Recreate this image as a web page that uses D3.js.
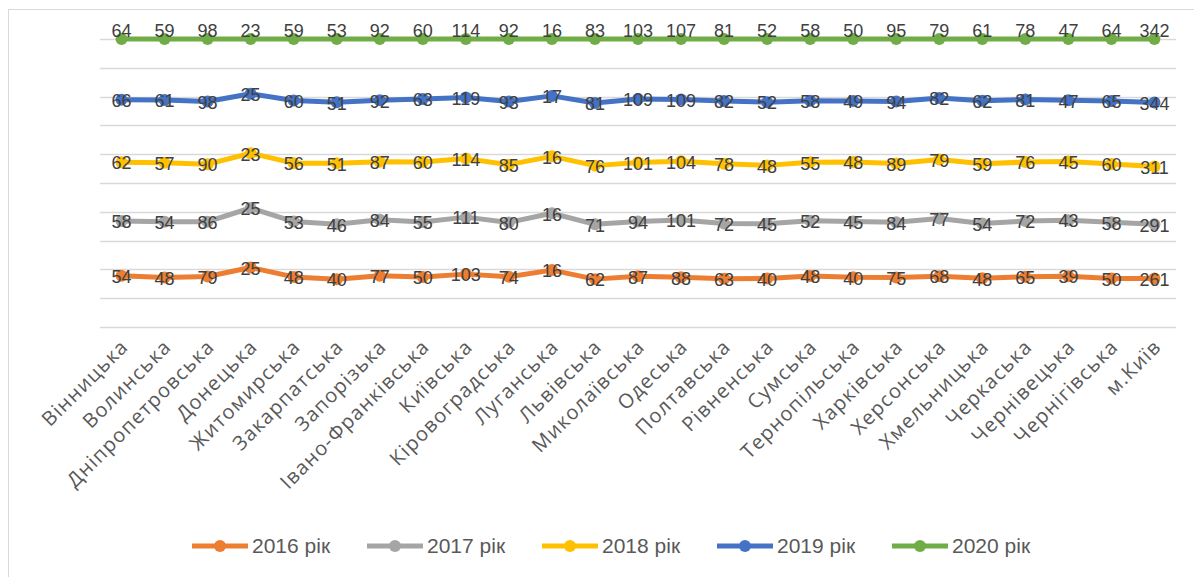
<!DOCTYPE html>
<html>
<head>
<meta charset="utf-8">
<script src="https://cdn.jsdelivr.net/npm/d3@7"></script>
<style>
  body { margin: 0; background: #fff; }
  svg { display: block; font-family: "Liberation Sans", Arial, sans-serif; }
</style>
</head>
<body>
<div id="chart"></div>
<script>
// oblasts
const regions = ["Вінницька", "Волинська", "Дніпропетровська", "Донецька", "Житомирська",
  "Закарпатська", "Запорізька", "Івано-Франківська", "Київська", "Кіровоградська",
  "Луганська", "Львівська", "Миколаївська", "Одеська", "Полтавська", "Рівненська",
  "Сумська", "Тернопільська", "Харківська", "Херсонська", "Хмельницька", "Черкаська",
  "Чернівецька", "Чернігівська", "м.Київ"];

const years = ["2016 рік", "2017 рік", "2018 рік", "2019 рік", "2020 рік"];

const v2016 = [54, 48, 79, 25, 48, 40, 77, 50, 103, 74, 16, 62, 87, 88, 63, 40, 48, 40, 75, 68, 48, 65, 39, 50, 261];
const v2017 = [58, 54, 86, 25, 53, 46, 84, 55, 111, 80, 16, 71, 94, 101, 72, 45, 52, 45, 84, 77, 54, 72, 43, 58, 291];
const v2018 = [62, 57, 90, 23, 56, 51, 87, 60, 114, 85, 16, 76, 101, 104, 78, 48, 55, 48, 89, 79, 59, 76, 45, 60, 311];
const v2019 = [66, 61, 98, 25, 60, 51, 92, 63, 119, 93, 17, 81, 109, 109, 82, 52, 58, 49, 94, 82, 62, 81, 47, 65, 344];
const v2020 = [64, 59, 98, 23, 59, 53, 92, 60, 114, 92, 16, 83, 103, 107, 81, 52, 58, 50, 95, 79, 61, 78, 47, 64, 342];

const colors = ["#ED7D31", "#A5A5A5", "#FFC000", "#4472C4", "#70AD47"];

const W = 1194, H = 577;
const svg = d3.select("#chart").append("svg").attr("width", W).attr("height", H);

// chart frame
svg.append("rect")
  .attr("x", 8.5).attr("y", 9.5)
  .attr("width", W + 20).attr("height", H + 20)
  .attr("fill", "none").attr("stroke", "#d9d9d9");

const x = d3.scalePoint().domain(regions).range([100, 1176]).padding(0.5);
const y = d3.scaleLinear().domain([0, 1]).range([327, 39]);

// 100% stacked: cumulative share per region
const seriesVals = [v2016, v2017, v2018, v2019, v2020];
const totals = regions.map((_, i) => d3.sum(seriesVals, s => s[i]));
const series = seriesVals.map((vals, k) => ({
  name: years[k],
  color: colors[k],
  points: regions.map((r, i) => ({
    region: r,
    value: vals[i],
    share: d3.sum(seriesVals.slice(0, k + 1), s => s[i]) / totals[i]
  }))
}));

// gridlines
svg.append("g")
  .selectAll("line")
  .data(d3.range(0, 1.0001, 0.1))
  .join("line")
  .attr("x1", 100).attr("x2", 1176)
  .attr("y1", d => Math.round(y(d)) + 0.5)
  .attr("y2", d => Math.round(y(d)) + 0.5)
  .attr("stroke", "#d9d9d9").attr("stroke-width", 1.5);

// category labels
svg.append("g")
  .selectAll("text")
  .data(regions)
  .join("text")
  .attr("transform", d => `translate(${x(d) + 8},${348}) rotate(-45)`)
  .attr("text-anchor", "end")
  .attr("font-family", "'Open Sans', sans-serif")
  .attr("font-size", 20)
  .attr("letter-spacing", 1.2)
  .attr("fill", "#595959")
  .text(d => d);

const line = d3.line().x(d => x(d.region)).y(d => y(d.share));

const sg = svg.append("g").selectAll("g").data(series).join("g");

sg.append("path")
  .attr("d", d => line(d.points))
  .attr("fill", "none")
  .attr("stroke", d => d.color)
  .attr("stroke-width", 5)
  .attr("stroke-linejoin", "round");

sg.each(function (s, k) {
  const g = d3.select(this);
  g.selectAll("circle")
    .data(s.points)
    .join("circle")
    .attr("cx", d => x(d.region))
    .attr("cy", d => y(d.share))
    .attr("r", 6)
    .attr("fill", s.color);
});

// data labels on top of everything
sg.each(function (s, k) {
  const g = d3.select(this);
  g.selectAll("text")
    .data(s.points)
    .join("text")
    .attr("x", d => x(d.region))
    .attr("y", d => y(d.share) + (k === 4 ? -8 : 1))
    .attr("dy", "0.35em")
    .attr("text-anchor", "middle")
    .attr("font-size", 18)
    .attr("fill", "#404040")
    .text(d => d.value);
});

// legend
const legend = svg.append("g").attr("transform", "translate(192,546)");
const item = legend.selectAll("g").data(series).join("g")
  .attr("transform", (d, i) => `translate(${i * 175},0)`);
item.append("line")
  .attr("x1", 0).attr("x2", 56)
  .attr("stroke", d => d.color).attr("stroke-width", 5);
item.append("circle")
  .attr("cx", 28).attr("r", 6).attr("fill", d => d.color);
item.append("text")
  .attr("x", 60).attr("dy", "0.35em")
  .attr("font-size", 21)
  .attr("fill", "#595959")
  .text(d => d.name);
</script>
</body>
</html>
